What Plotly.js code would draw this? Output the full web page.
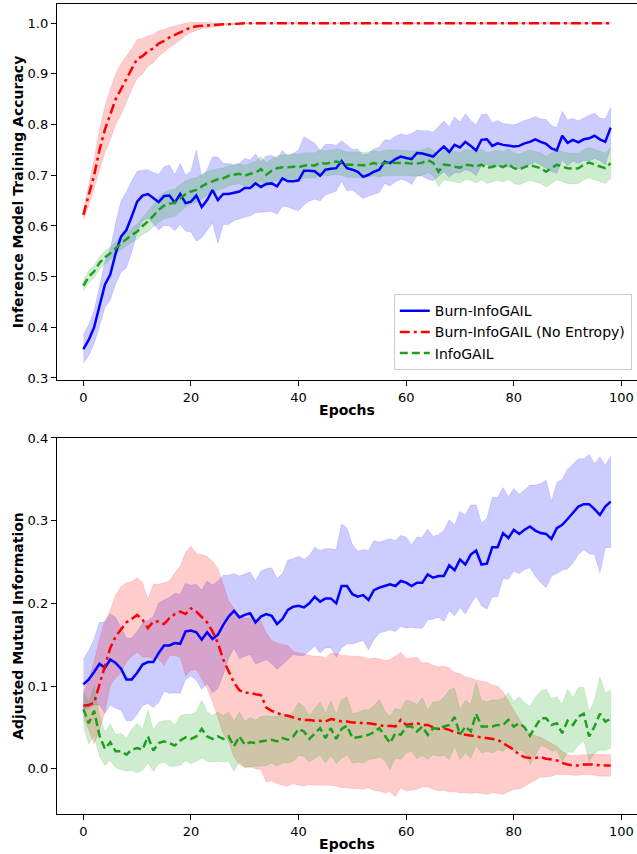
<!DOCTYPE html>
<html>
<head>
<meta charset="utf-8">
<script src="https://cdn.plot.ly/plotly-3.0.1.min.js"></script>
<style>html,body{margin:0;padding:0;background:#fff;overflow:hidden}#chart{width:637px;height:854px}</style>
</head>
<body>
<div id="chart"></div>
<script>
// ---- Data ----
const seriesNames = ["Burn-InfoGAIL", "Burn-InfoGAIL (No Entropy)", "InfoGAIL"];
const xTickVals = [0, 20, 40, 60, 80, 100];

// Top panel: Inference model training accuracy (mean and std per epoch)
const burnAccMean = [0.357,0.375,0.400,0.440,0.484,0.504,0.546,0.579,0.592,0.619,0.648,0.660,0.663,0.655,0.647,0.659,0.660,0.646,0.663,0.645,0.648,0.660,0.637,0.651,0.671,0.651,0.663,0.663,0.666,0.668,0.675,0.675,0.684,0.677,0.683,0.684,0.678,0.694,0.688,0.688,0.690,0.709,0.709,0.708,0.699,0.711,0.713,0.714,0.728,
0.714,0.711,0.707,0.697,0.701,0.707,0.711,0.727,0.724,0.732,0.737,0.734,0.732,0.744,0.743,0.740,0.737,0.747,0.757,0.746,0.760,0.755,0.766,0.758,0.749,0.770,0.771,0.758,0.763,0.760,0.758,0.757,0.758,0.763,0.766,0.771,0.766,0.762,0.753,0.749,0.778,0.764,0.770,0.765,0.771,0.773,0.778,0.771,0.766,0.794];
const burnAccStd = [0.028,0.03,0.033,0.038,0.045,0.05,0.06,0.07,0.075,0.07,0.06,0.05,0.048,0.05,0.055,0.058,0.06,0.055,0.06,0.055,0.06,0.09,0.06,0.06,0.065,0.085,0.06,0.06,0.055,0.055,0.058,0.055,0.058,0.05,0.055,0.055,0.055,0.055,0.05,0.055,0.06,0.067,0.06,0.055,0.05,0.05,0.048,0.045,0.04,
0.045,0.04,0.045,0.043,0.042,0.045,0.045,0.043,0.045,0.045,0.045,0.045,0.05,0.045,0.045,0.048,0.048,0.05,0.05,0.05,0.055,0.05,0.055,0.05,0.05,0.05,0.05,0.045,0.045,0.042,0.042,0.042,0.045,0.045,0.045,0.045,0.045,0.048,0.045,0.045,0.048,0.045,0.042,0.042,0.042,0.045,0.045,0.042,0.045,0.04];

const noEntAccMean = [0.622,0.66,0.70,0.75,0.79,0.82,0.85,0.87,0.89,0.91,0.93,0.935,0.945,0.95,0.96,0.965,0.972,0.977,0.982,0.988,0.992,0.994,0.995,0.996,0.997,0.997,0.998,0.998,0.999,0.999,
1,1,1,1,1,1,1,1,1,1,1,1,1,1,1,1,1,1,1,1,1,1,1,1,1,1,1,1,1,1,1,1,1,1,1,1,1,1,1,1,1,1,1,1,1,1,1,1,1,1,1,1,1,1,1,1,1,1,1,1,1,1,1,1,1,1,1,1,1];
const noEntAccStd = [0.01,0.02,0.03,0.04,0.045,0.05,0.05,0.05,0.045,0.04,0.038,0.035,0.03,0.028,0.025,0.022,0.02,0.018,0.015,0.012,0.01,0.008,0.006,0.005,0.004,0.003,0.002,0.002,0.002,0.002,
0.001,0.001,0.001,0.001,0.001,0.001,0.001,0.001,0.001,0.001,0.001,0.001,0.001,0.001,0.001,0.001,0.001,0.001,0.001,0.001,0.001,0.001,0.001,0.001,0.001,0.001,0.001,0.001,0.001,0.001,0.001,0.001,0.001,0.001,0.001,0.001,0.001,0.001,0.001,0.001,0.001,0.001,0.001,0.001,0.001,0.001,0.001,0.001,0.001,0.001,0.001,0.001,0.001,0.001,0.001,0.001,0.001,0.001,0.001,0.001,0.001,0.001,0.001,0.001,0.001,0.001,0.001,0.001,0.001];

const infoAccMean = [0.482,0.500,0.510,0.527,0.538,0.546,0.556,0.566,0.574,0.582,0.589,0.600,0.609,0.620,0.632,0.640,0.644,0.646,0.655,0.663,0.668,0.671,0.678,0.684,0.688,0.692,0.694,0.699,0.701,0.703,0.699,0.703,0.705,0.712,0.701,0.709,0.714,0.716,0.716,0.717,0.716,0.719,0.720,0.719,0.725,0.723,0.725,0.727,0.725,
0.721,0.721,0.720,0.720,0.721,0.724,0.721,0.724,0.725,0.725,0.725,0.724,0.723,0.723,0.725,0.730,0.725,0.707,0.721,0.720,0.717,0.715,0.721,0.720,0.717,0.721,0.714,0.717,0.720,0.716,0.722,0.714,0.711,0.716,0.720,0.717,0.714,0.707,0.714,0.721,0.717,0.714,0.713,0.714,0.721,0.725,0.721,0.717,0.714,0.724];
const infoAccStd = [0.01,0.012,0.012,0.012,0.013,0.012,0.012,0.013,0.013,0.014,0.015,0.017,0.02,0.022,0.025,0.026,0.027,0.027,0.027,0.026,0.025,0.024,0.024,0.023,0.022,0.021,0.02,0.02,0.019,0.02,0.02,0.021,0.022,0.025,0.023,0.023,0.024,0.024,0.025,0.025,0.025,0.025,0.025,0.025,0.025,0.025,0.025,0.025,0.025,
0.025,0.025,0.025,0.025,0.025,0.025,0.025,0.025,0.025,0.025,0.025,0.025,0.025,0.025,0.025,0.025,0.025,0.03,0.03,0.03,0.03,0.03,0.03,0.03,0.032,0.03,0.03,0.03,0.03,0.03,0.03,0.03,0.03,0.03,0.03,0.03,0.03,0.03,0.03,0.03,0.03,0.03,0.03,0.03,0.03,0.03,0.03,0.03,0.03,0.03];

// Bottom panel: adjusted mutual information (mean and std per epoch)
const burnAmiMean = [0.102,0.108,0.117,0.127,0.122,0.132,0.128,0.121,0.108,0.108,0.116,0.126,0.129,0.129,0.140,0.149,0.149,0.152,0.151,0.166,0.167,0.165,0.156,0.165,0.157,0.162,0.174,0.184,0.191,0.183,0.186,
0.188,0.177,0.184,0.187,0.185,0.175,0.181,0.192,0.196,0.197,0.195,0.200,0.208,0.202,0.206,0.206,0.200,0.221,0.221,0.211,0.208,0.210,0.204,0.216,0.219,0.221,0.223,0.221,0.227,0.225,0.221,0.225,0.225,0.235,0.231,0.233,0.233,0.246,
0.240,0.253,0.247,0.259,0.264,0.247,0.248,0.268,0.268,0.285,0.279,0.289,0.284,0.289,0.293,0.288,0.285,0.284,0.278,0.291,0.295,0.302,0.309,0.317,0.320,0.320,0.314,0.307,0.317,0.323];
const burnAmiStd = [0.03,0.035,0.04,0.05,0.055,0.055,0.055,0.05,0.05,0.05,0.05,0.05,0.05,0.055,0.06,0.055,0.058,0.06,0.06,0.058,0.055,0.058,0.06,0.062,0.065,0.065,0.06,0.05,0.045,0.05,0.05,
0.05,0.05,0.055,0.055,0.058,0.055,0.055,0.06,0.058,0.06,0.058,0.058,0.06,0.062,0.06,0.06,0.065,0.075,0.07,0.06,0.055,0.055,0.06,0.06,0.055,0.055,0.055,0.055,0.055,0.055,0.05,0.055,0.055,0.055,0.05,0.05,0.055,0.055,
0.055,0.058,0.06,0.06,0.055,0.05,0.055,0.06,0.06,0.055,0.05,0.05,0.048,0.048,0.05,0.055,0.06,0.065,0.045,0.055,0.055,0.06,0.06,0.058,0.055,0.06,0.055,0.07,0.05,0.055];

const noEntAmiMean = [0.076,0.077,0.080,0.102,0.124,0.146,0.160,0.168,0.177,0.181,0.186,0.180,0.170,0.178,0.178,0.175,0.182,0.187,0.190,0.187,0.194,0.190,0.184,0.177,0.166,0.152,0.132,0.118,0.104,0.095,0.092,0.092,0.090,
0.089,0.074,0.070,0.067,0.065,0.064,0.062,0.060,0.059,0.059,0.058,0.058,0.057,0.060,0.059,0.057,0.057,0.056,0.056,0.055,0.055,0.054,0.053,0.051,0.052,0.051,0.059,0.053,0.054,0.055,0.053,0.053,0.050,0.048,0.049,0.047,
0.044,0.043,0.041,0.040,0.039,0.038,0.037,0.036,0.035,0.031,0.027,0.023,0.017,0.014,0.013,0.013,0.014,0.012,0.011,0.010,0.007,0.005,0.004,0.004,0.005,0.005,0.005,0.004,0.004,0.004];
const noEntAmiStd = [0.015,0.03,0.05,0.055,0.055,0.045,0.05,0.052,0.048,0.045,0.045,0.045,0.035,0.045,0.045,0.05,0.045,0.05,0.055,0.075,0.075,0.07,0.075,0.08,0.085,0.09,0.09,0.085,0.09,0.09,0.09,0.09,0.09,
0.09,0.09,0.085,0.085,0.085,0.085,0.08,0.08,0.08,0.078,0.078,0.078,0.077,0.08,0.08,0.08,0.08,0.08,0.08,0.08,0.078,0.08,0.08,0.08,0.08,0.085,0.082,0.08,0.08,0.08,0.075,0.075,0.075,0.075,0.075,0.075,
0.072,0.072,0.07,0.07,0.068,0.068,0.068,0.065,0.065,0.062,0.055,0.048,0.042,0.035,0.03,0.027,0.024,0.022,0.02,0.017,0.014,0.012,0.012,0.012,0.012,0.012,0.013,0.013,0.013,0.013];

const infoAmiMean = [0.072,0.055,0.070,0.040,0.024,0.032,0.021,0.021,0.017,0.023,0.025,0.023,0.039,0.022,0.031,0.033,0.031,0.028,0.034,0.038,0.036,0.039,0.048,0.039,0.036,0.039,0.036,0.039,0.027,0.039,0.029,0.032,
0.031,0.033,0.034,0.035,0.033,0.037,0.035,0.039,0.048,0.045,0.036,0.043,0.049,0.037,0.049,0.036,
0.048,0.052,0.037,0.038,0.039,0.041,0.044,0.049,0.040,0.031,0.043,0.041,0.051,0.051,0.045,0.051,0.041,0.049,0.048,0.051,0.053,
0.0625,0.041,0.051,0.045,0.0665,0.051,0.051,0.051,0.053,0.053,0.059,0.051,0.055,0.050,0.040,0.051,0.061,0.061,0.053,0.055,0.043,0.058,0.053,0.063,0.0665,0.039,0.051,0.0665,0.057,0.060];
const infoAmiStd = [0.02,0.025,0.03,0.025,0.02,0.022,0.02,0.022,0.02,0.025,0.03,0.025,0.032,0.025,0.025,0.025,0.028,0.025,0.03,0.028,0.03,0.03,0.035,0.03,0.028,0.03,0.028,0.03,0.03,0.03,0.028,0.03,
0.028,0.03,0.03,0.028,0.03,0.03,0.028,0.03,0.032,0.03,0.028,0.03,0.032,0.03,0.033,0.03,
0.035,0.035,0.03,0.03,0.032,0.03,0.032,0.035,0.03,0.032,0.03,0.03,0.032,0.03,0.033,0.035,0.03,0.032,0.033,0.035,0.042,
0.035,0.03,0.032,0.033,0.038,0.032,0.03,0.032,0.03,0.032,0.033,0.03,0.032,0.03,0.035,0.035,0.033,0.035,0.032,0.032,0.035,0.038,0.033,0.035,0.032,0.03,0.032,0.044,0.035,0.035];

// ---- Styling ----
const FONT = "DejaVu Sans, Liberation Sans, sans-serif";
const lineColors = ["#0000ff", "#ff0000", "#1ea01e"];
const bandColors = ["rgba(0,0,255,0.2)", "rgba(255,0,0,0.2)", "rgba(30,170,30,0.22)"];
const dashes = ["solid", "10px,4px,3px,4px", "8px,4px"];

function epochsFor(arr) { return arr.map((_, i) => i); }

function band(mean, std, idx, xa, ya) {
  const x = epochsFor(mean);
  const upper = mean.map((m, i) => m + std[i]);
  const lower = mean.map((m, i) => m - std[i]);
  return {
    type: "scatter", mode: "lines",
    x: x.concat(x.slice().reverse()),
    y: upper.concat(lower.slice().reverse()),
    fill: "toself", fillcolor: bandColors[idx],
    line: {color: bandColors[idx], width: 0.6},
    hoverinfo: "skip", showlegend: false, xaxis: xa, yaxis: ya
  };
}
function meanLine(mean, idx, xa, ya, showlegend) {
  return {
    type: "scatter", mode: "lines",
    x: epochsFor(mean), y: mean, name: seriesNames[idx],
    line: {color: lineColors[idx], width: 2.5, dash: dashes[idx]},
    showlegend: showlegend, xaxis: xa, yaxis: ya
  };
}

const traces = [
  band(burnAccMean, burnAccStd, 0, "x", "y"),
  band(noEntAccMean, noEntAccStd, 1, "x", "y"),
  band(infoAccMean, infoAccStd, 2, "x", "y"),
  meanLine(burnAccMean, 0, "x", "y", true),
  meanLine(noEntAccMean, 1, "x", "y", true),
  meanLine(infoAccMean, 2, "x", "y", true),
  band(burnAmiMean, burnAmiStd, 0, "x2", "y2"),
  band(noEntAmiMean, noEntAmiStd, 1, "x2", "y2"),
  band(infoAmiMean, infoAmiStd, 2, "x2", "y2"),
  meanLine(burnAmiMean, 0, "x2", "y2", false),
  meanLine(noEntAmiMean, 1, "x2", "y2", false),
  meanLine(infoAmiMean, 2, "x2", "y2", false)
];

const tickFont = {family: FONT, size: 13, color: "#000"};
const titleFont = {family: FONT, size: 14, color: "#000", weight: "bold"};

function xAxis(anchor) {
  return {
    anchor: anchor, domain: [0, 1], range: [-4.9, 102.9],
    tickmode: "array", tickvals: xTickVals,
    ticks: "outside", ticklen: 5, tickwidth: 1, tickcolor: "#000",
    showline: true, linecolor: "#000", linewidth: 1.2, mirror: true,
    showgrid: false, zeroline: false, tickfont: tickFont,
    title: {text: "<b>Epochs</b>", font: titleFont, standoff: 1},
    automargin: false
  };
}
function yAxis(anchor, domain, range, dtick, tick0, titleText) {
  return {
    anchor: anchor, domain: domain, range: range,
    tick0: tick0, dtick: dtick, tickformat: ".1f",
    ticks: "outside", ticklen: 5, tickwidth: 1, tickcolor: "#000",
    showline: true, linecolor: "#000", linewidth: 1.2, mirror: false,
    showgrid: false, zeroline: false, tickfont: tickFont,
    title: {text: "<b>" + titleText + "</b>", font: titleFont, standoff: 0},
    automargin: false
  };
}

const layout = {
  width: 637, height: 854,
  margin: {l: 57, r: 0, t: 4, b: 40},
  paper_bgcolor: "#fff", plot_bgcolor: "#fff",
  font: {family: FONT, color: "#000"},
  xaxis: xAxis("y"),
  yaxis: yAxis("x", [0.5358, 1], [0.296, 1.038], 0.1, 0.3, "Inference Model Training Accuracy"),
  xaxis2: xAxis("y2"),
  yaxis2: yAxis("x2", [0, 0.4642], [-0.0548, 0.4], 0.1, 0, "Adjusted Mutual Information"),
  showlegend: true,
  legend: {
    x: 0.991, xanchor: "right", xref: "paper",
    y: 0.548, yanchor: "bottom", yref: "paper",
    bgcolor: "rgba(255,255,255,0.85)", bordercolor: "#cccccc", borderwidth: 1,
    font: {family: FONT, size: 14, color: "#000"},
    tracegroupgap: 0
  }
};

Plotly.newPlot("chart", traces, layout, {displayModeBar: false, staticPlot: true});
</script>
</body>
</html>
